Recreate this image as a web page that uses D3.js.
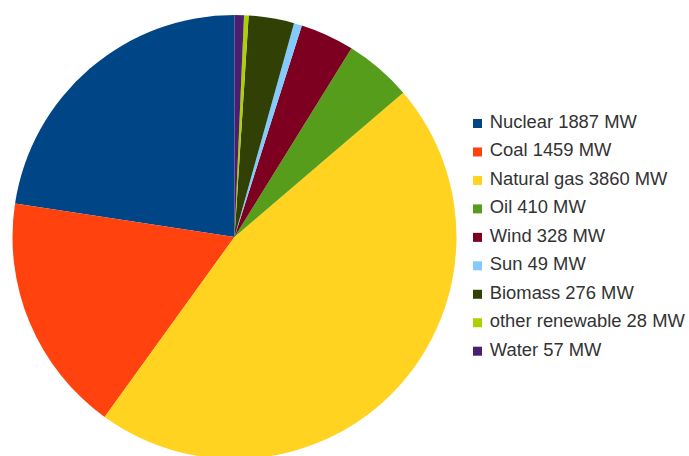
<!DOCTYPE html>
<html><head><meta charset="utf-8">
<script src="https://cdn.jsdelivr.net/npm/d3@7"></script>
<style>body{margin:0;background:#fff}svg{display:block}</style>
</head><body>
<svg id="c" width="689" height="456"></svg>
<script>
const categories = ["Nuclear","Coal","Natural gas","Oil","Wind","Sun","Biomass","other renewable","Water"];
const values = [1887,1459,3860,410,328,49,276,28,57];
const colors = ["#004586","#ff420e","#ffd320","#579d1c","#7e0021","#83caff","#314004","#aecf00","#4b1f6f"];
const data = categories.map((c,i)=>({name:c,value:values[i],color:colors[i]}));

const svg = d3.select("#c");
const cx = 234.5, cy = 237, r = 222;
const pie = d3.pie().value(d=>d.value).sort(null).startAngle(0).endAngle(-2*Math.PI);
const arc = d3.arc().innerRadius(0).outerRadius(r);
svg.append("g").attr("transform",`translate(${cx},${cy})`)
  .selectAll("path").data(pie(data)).join("path")
  .attr("d",arc).attr("fill",d=>d.data.color);

const y = d3.scalePoint().domain(categories).range([119,346.7]);
const lg = svg.append("g");
const row = lg.selectAll("g").data(data).join("g").attr("transform",d=>`translate(473,${y(d.name)})`);
row.append("rect").attr("width",9).attr("height",9).attr("fill",d=>d.color);
row.append("text").attr("x",16).attr("y",8.8)
  .attr("font-family","Liberation Sans, Arial, sans-serif").attr("font-size",17.5)
  .attr("transform","scale(1.05,1)")
  .attr("fill","#333").text(d=>`${d.name} ${d.value} MW`);
</script>
</body></html>
